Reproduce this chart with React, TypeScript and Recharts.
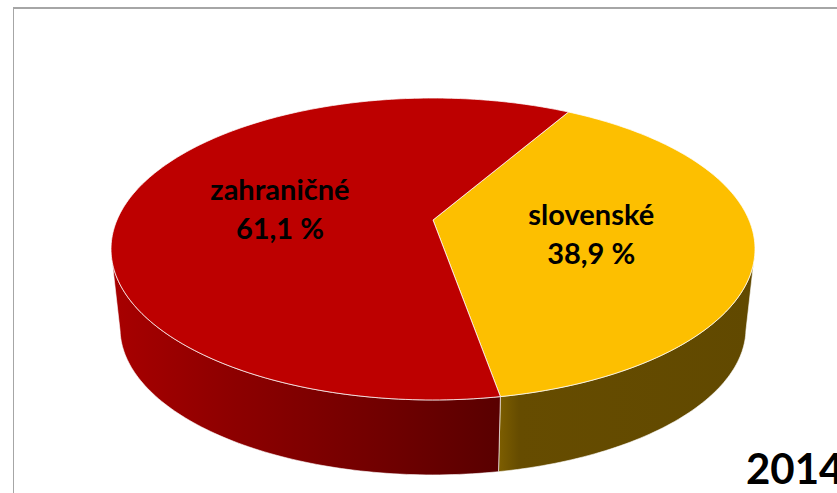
import { PieChart, Pie, Cell } from "recharts";

const CATEGORIES = ["slovenské", "zahraničné"];
const SHARES = [38.9, 61.1];
const YEAR = "2014";

const TOP_COLORS = ["#fdbf00", "#bd0000"];
const WALL_STOPS = [
  [
    ["0%", "#7d5e00"],
    ["8%", "#664c00"],
    ["100%", "#614900"],
  ],
  [
    ["0%", "#a80000"],
    ["30%", "#8e0000"],
    ["65%", "#740000"],
    ["100%", "#590000"],
  ],
];

const chartData = CATEGORIES.map((name, i) => ({ name, value: SHARES[i] }));

// tilted disc, the pie's own angles get projected with a bit of perspective
const SCALE_X = 316;
const SCALE_Y = 145.4;
const TILT = 0.192;
const WALL_DROP = 80;
const WALL_SHRINK = 0.972;
const FRONT_FROM = -12;
const FRONT_TO = -168;

function project(cx: number, cy: number, angle: number, r = 1) {
  const rad = (angle * Math.PI) / 180;
  const X = r * Math.cos(rad);
  const Y = r * Math.sin(rad);
  const w = 1 + TILT * Y;
  return { x: cx + (SCALE_X * X) / w, y: cy - (SCALE_Y * Y) / w };
}

function rimPoint(cx: number, cy: number, angle: number) {
  const p = project(cx, cy, angle);
  return {
    x: cx + WALL_SHRINK * (p.x - cx),
    y: cy + WALL_SHRINK * (p.y - cy) + WALL_DROP,
  };
}

function angleSteps(from: number, to: number) {
  const out: number[] = [];
  const n = Math.max(1, Math.ceil(Math.abs(to - from)));
  for (let i = 0; i <= n; i++) out.push(from + ((to - from) * i) / n);
  return out;
}

const toPath = (pts: { x: number; y: number }[]) =>
  pts.map((p, i) => `${i ? "L" : "M"}${p.x.toFixed(2)} ${p.y.toFixed(2)}`).join(" ") + " Z";

function TiltedSlice(props: any) {
  const { cx, cy, startAngle, endAngle, index, fill } = props;
  const top = [
    { x: cx, y: cy },
    ...angleSteps(startAngle, endAngle).map((a) => project(cx, cy, a)),
  ];
  const angles = angleSteps(Math.min(startAngle, FRONT_FROM), Math.max(endAngle, FRONT_TO));
  const wall = [
    ...angles.map((a) => project(cx, cy, a)),
    ...[...angles].reverse().map((a) => rimPoint(cx, cy, a)),
  ];
  const id = `wall-${index}`;
  const xs = wall.map((p) => p.x);
  return (
    <g>
      <defs>
        <linearGradient
          id={id}
          gradientUnits="userSpaceOnUse"
          x1={Math.min(...xs)}
          x2={Math.max(...xs)}
          y1={0}
          y2={0}
        >
          {WALL_STOPS[index].map(([offset, color]) => (
            <stop key={offset} offset={offset} stopColor={color} />
          ))}
        </linearGradient>
      </defs>
      <path d={toPath(wall)} fill={`url(#${id})`} stroke="#fff" strokeOpacity={0.6} strokeWidth={1} />
      <path d={toPath(top)} fill={fill} stroke="#fff" strokeOpacity={0.75} strokeWidth={1} />
    </g>
  );
}

function SliceLabel(props: any) {
  const { cx, cy, midAngle, name, value } = props;
  const p = project(cx, cy, midAngle, 0.5);
  return (
    <text
      textAnchor="middle"
      fontFamily="Lato, sans-serif"
      fontWeight={700}
      fontSize={29}
      fill="#000"
    >
      <tspan x={p.x} y={p.y - 7.5}>
        {name}
      </tspan>
      <tspan x={p.x} y={p.y + 31}>
        {`${String(value).replace(".", ",")} %`}
      </tspan>
    </text>
  );
}

export default function App() {
  return (
    <div
      style={{
        position: "absolute",
        left: 0,
        top: 0,
        width: 837,
        height: 493,
        overflow: "hidden",
        background: "#fff",
      }}
    >
      <div
        style={{
          position: "absolute",
          left: 13,
          top: 7,
          right: 0,
          bottom: 0,
          borderTop: "2px solid #a6a6a6",
          borderLeft: "1px solid #a6a6a6",
        }}
      />
      <div style={{ position: "absolute", left: 0, top: 0 }}>
        <PieChart width={837} height={493} margin={{ top: 0, right: 0, bottom: 0, left: 0 }}>
          <Pie
            data={chartData}
            dataKey="value"
            nameKey="name"
            cx={433}
            cy={220}
            outerRadius={145}
            startAngle={60}
            endAngle={-300}
            stroke="none"
            shape={TiltedSlice}
            label={SliceLabel}
            labelLine={false}
            isAnimationActive={false}
          >
            {chartData.map((entry, i) => (
              <Cell key={entry.name} fill={TOP_COLORS[i]} />
            ))}
          </Pie>
        </PieChart>
      </div>
      <div
        style={{
          position: "absolute",
          left: 746,
          top: 443,
          fontFamily: "Lato, sans-serif",
          fontWeight: 700,
          fontSize: 42,
          lineHeight: "50px",
          color: "#000",
        }}
      >
        {YEAR}
      </div>
    </div>
  );
}
